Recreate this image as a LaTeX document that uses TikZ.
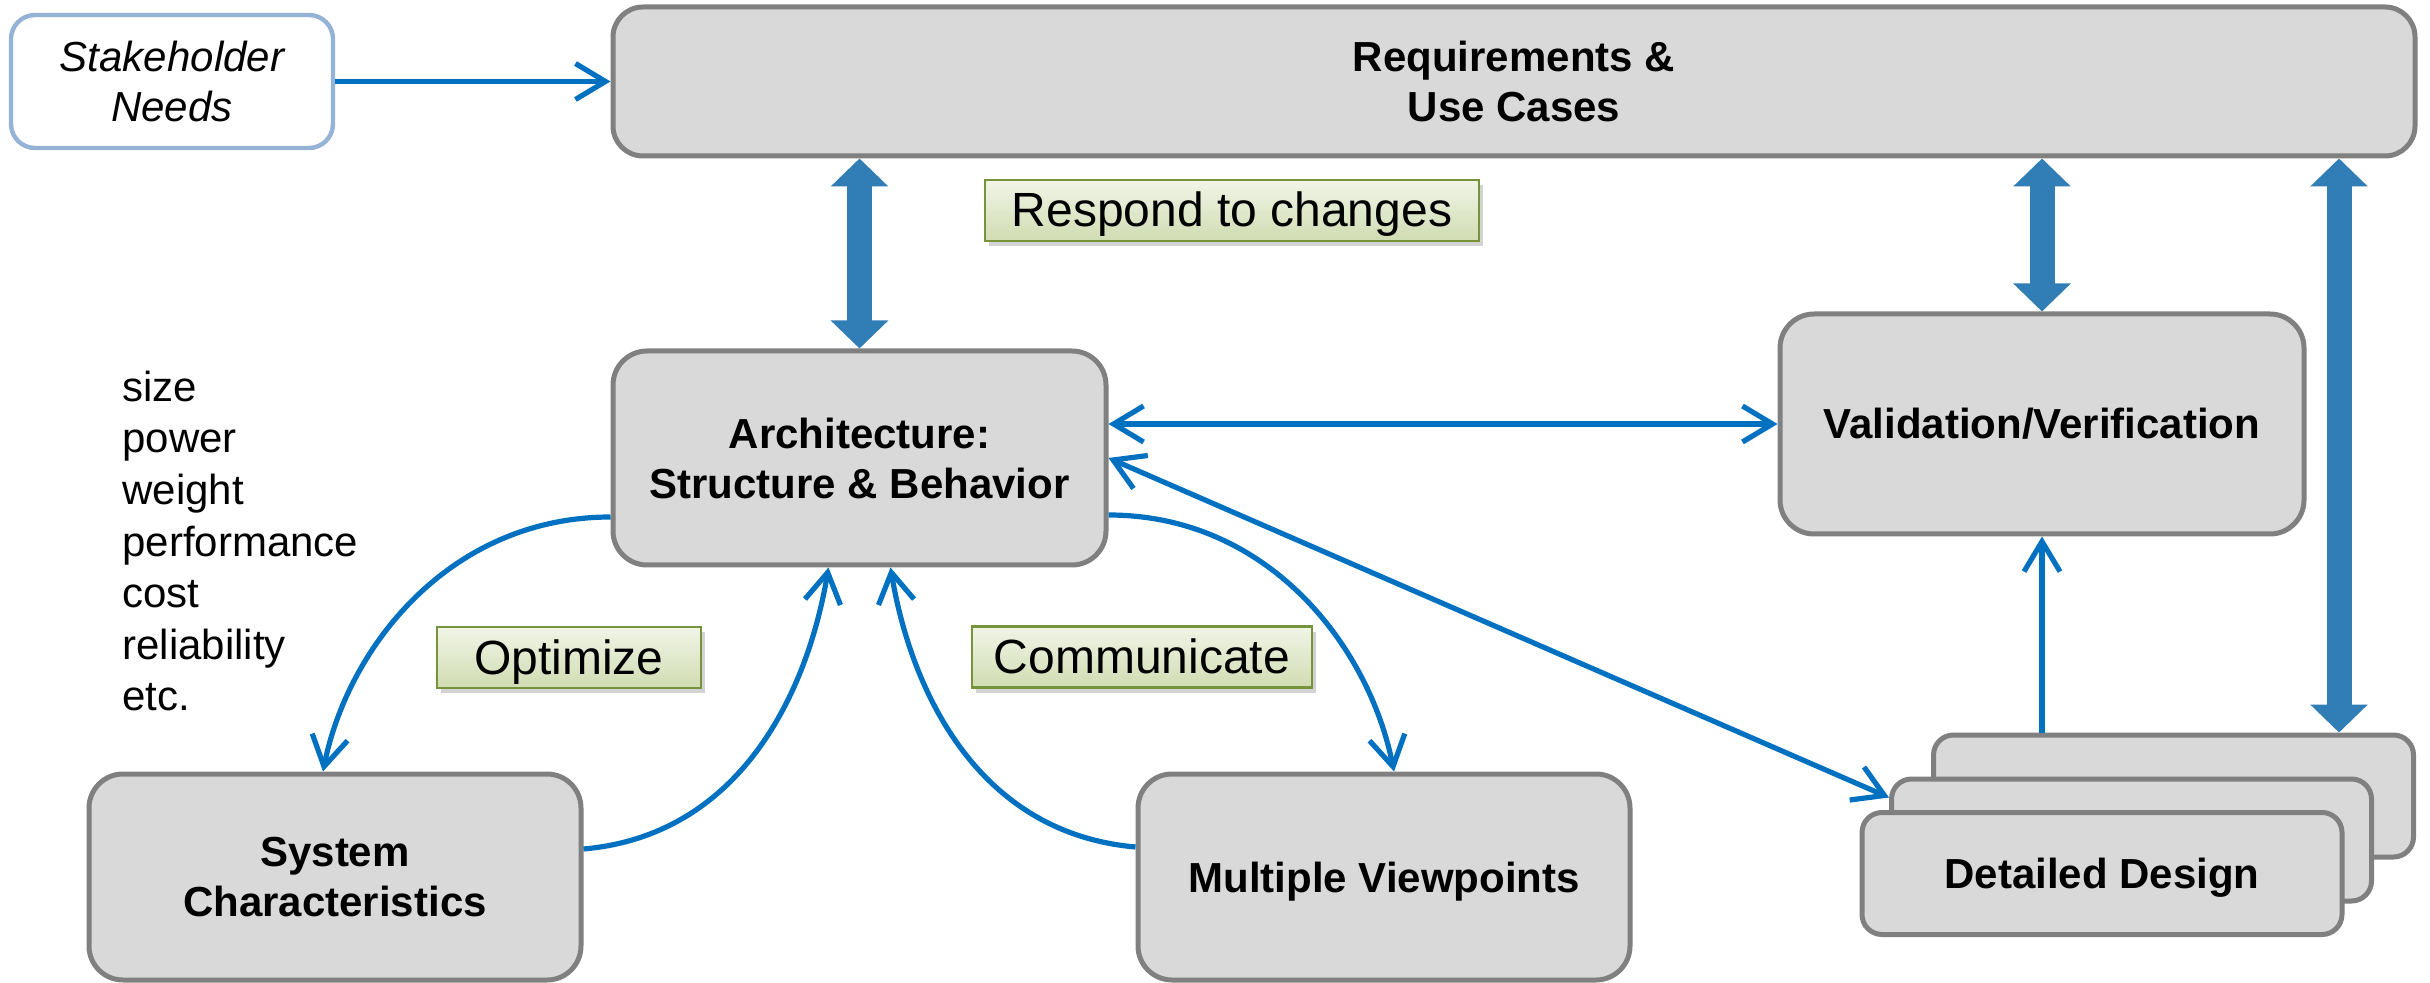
\documentclass[tikz,border=0pt]{standalone}
\usepackage{fontspec}
\setmainfont{Liberation Sans}
\usetikzlibrary{arrows.meta,shadows,calc}
\definecolor{boxfill}{HTML}{D9D9D9}
\definecolor{boxline}{HTML}{808080}
\definecolor{thinblue}{HTML}{0070C0}
\definecolor{fatblue}{HTML}{317DB5}
\definecolor{stakeline}{HTML}{95B3D7}
\definecolor{labtop}{HTML}{F1F5E7}
\definecolor{labbot}{HTML}{D0DCB2}
\definecolor{labline}{HTML}{77933C}
\tikzset{
  barb/.tip={Straight Barb[length=15pt,width=18pt]},
  fat/.tip={Triangle[length=14pt,width=28pt]},
  box/.style={draw=boxline, fill=boxfill, line width=2.5pt, rounded corners=17pt,
    align=center, inner sep=0pt, font=\fontsize{21}{25}\selectfont\bfseries},
  ddbox/.style={box, rounded corners=10pt, minimum width=240pt, minimum height=61pt},
  stakebox/.style={draw=stakeline, fill=white, line width=2.2pt, rounded corners=12pt,
    align=center, inner sep=0pt, font=\fontsize{21}{25}\selectfont\itshape,
    minimum width=161pt, minimum height=66.5pt},
  tag/.style={draw=labline, line width=1.2pt, top color=labtop, bottom color=labbot,
    minimum height=30.5pt, inner sep=0pt, font=\fontsize{24}{28}\selectfont,
    text height=17.5pt, text depth=1pt,
    drop shadow={shadow xshift=2pt, shadow yshift=-2.5pt, opacity=0.35}},
  conn/.style={draw=thinblue, line width=2.6pt, -barb},
  conntwo/.style={draw=thinblue, line width=2.6pt, barb-barb},
  bigconn/.style={draw=fatblue, fill=fatblue, line width=12.5pt, fat-fat},
}
\begin{document}
\begin{tikzpicture}[x=0.5pt,y=-0.5pt]
\useasboundingbox (0,0) rectangle (2430,983);

% boxes
\node[stakebox] (stake) at (172,81.5) {Stakeholder\\Needs};
\node[box, rounded corners=15pt, minimum width=901pt, minimum height=74.5pt] (req) at (1514,81.5) {Requirements \&\\Use Cases};
\node[box, minimum width=246.5pt, minimum height=107pt] (arch) at (859.5,458) {Architecture:\\Structure \& Behavior};
\node[box, minimum width=262pt, minimum height=110pt] (valid) at (2042,424) {Validation/Verification};
\node[box, minimum width=246pt, minimum height=103pt] (sys) at (335,877) {System\\Characteristics};
\node[box, minimum width=246pt, minimum height=103pt, text depth=0pt] (multi) at (1384,877) {Multiple Viewpoints};
\node[ddbox] (ddback) at (2173.5,796) {};
\node[ddbox] (ddmid) at (2131.5,840) {};
\node[ddbox, text depth=0pt] (ddfront) at (2102,873.5) {Detailed Design};

% labels
\node[tag, minimum width=247pt] (respond) at (1232,210.5) {Respond to changes};
\node[tag, minimum width=132pt] (optim) at (569,657.5) {Optimize};
\node[tag, minimum width=170pt] (commu) at (1142,657) {Communicate};

% list of characteristics
\node[anchor=west, align=left, inner sep=0pt, font=\fontsize{21}{25.8}\selectfont] (attrs) at (122,541)
  {size\\power\\weight\\performance\\cost\\reliability\\etc.};

% thick connectors
\coordinate (rt) at ($(ddback.north east)+(-77,0)$);
\draw[bigconn] (arch.north |- req.south) -- (arch.north);
\draw[bigconn] (valid.north |- req.south) -- (valid.north);
\draw[bigconn] (rt |- req.south) -- (rt);

% thin connectors
\draw[conn] (stake.east) -- (req.west);
\draw[conntwo] (arch.east |- valid.west) -- (valid.west);
\draw[conntwo] (arch.east) -- ($(ddmid.north west)+(0,21)$);
\draw[conn] (valid.south |- ddback.north) -- (valid.south);

% curved connectors
\draw[conn] ($(arch.west)+(0,59)$) .. controls +(-160,0) and +(25,-125) .. ($(sys.north)+(-12,0)$);
\draw[conn] ($(sys.east)+(0,-28)$) .. controls +(160,-14) and +(-20,120) .. ($(arch.south)+(-31,0)$);
\draw[conn] ($(multi.west)+(0,-30)$) .. controls +(-160,-14) and +(20,120) .. ($(arch.south)+(31,0)$);
\draw[conn] ($(arch.east)+(0,57)$) .. controls +(160,0) and +(-25,-125) .. ($(multi.north)+(10,0)$);
\end{tikzpicture}
\end{document}
